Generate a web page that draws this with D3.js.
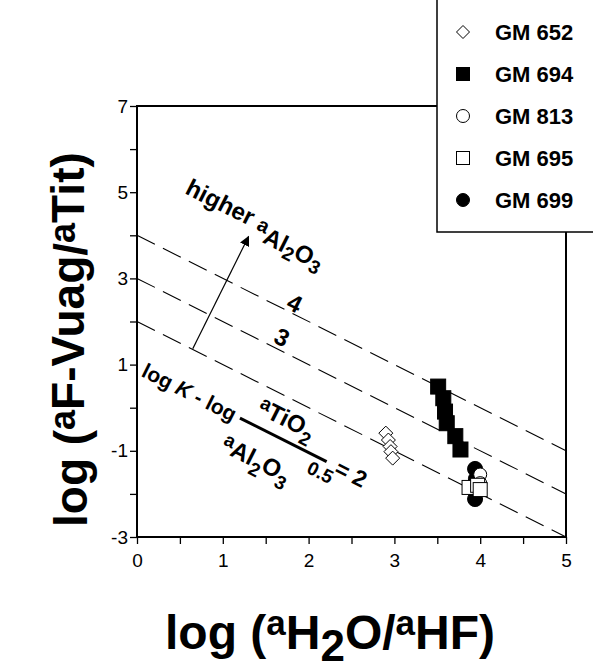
<!DOCTYPE html>
<html>
<head>
<meta charset="utf-8">
<script src="https://cdn.jsdelivr.net/npm/d3@7"></script>
<style>
  body { margin: 0; background: #fff; }
  text { font-family: Helvetica, Arial, "Liberation Sans", sans-serif; fill: #000; }
</style>
</head>
<body>
<svg id="chart" width="593" height="672"></svg>
<script>
// sample names and their symbols (legend order)
var samples = ["GM 652", "GM 694", "GM 813", "GM 695", "GM 699"];
var symbolKinds = ["diamond", "squareFilled", "circle", "square", "circleFilled"];

// measured points, [log(aH2O/aHF), log(aF-Vuag/aTit)]
var gm652 = [[2.90, -0.59], [2.93, -0.75], [2.95, -0.90], [2.96, -1.02], [2.98, -1.17]];
var gm694 = [[3.51, 0.49], [3.57, 0.22], [3.59, -0.09], [3.61, -0.36], [3.71, -0.66], [3.77, -0.97]];
var gm813 = [[4.00, -1.55], [4.00, -1.75]];
var gm695 = [[3.87, -1.85], [3.97, -1.80], [4.00, -1.90]];
var gm699 = [[3.94, -1.42], [3.95, -1.65], [3.96, -1.95], [3.94, -2.12]];

// iso lines: log K - log(aTiO2/aAl2O3^0.5) = value  ->  y = value - x
var isoValues = [2, 3, 4];
var isoLabels = ["3", "4"];
var isoLabelPos = [[1.69, 1.64], [1.84, 2.43]];

var xTickValues = [0, 0.5, 1, 1.5, 2, 2.5, 3, 3.5, 4, 4.5, 5];
var yTickValues = [-3, -2, -1, 0, 1, 2, 3, 4, 5, 6, 7];
var xTickLabels = ["0", "1", "2", "3", "4", "5"];
var yTickLabels = ["-3", "-1", "1", "3", "5", "7"];

// annotation anchors in data units
var arrowFrom = [0.65, 1.37], arrowTo = [1.30, 3.97];
var higherAt = [0.548, 4.98];
var fractionAt = [1.20, -0.24];

(function() {
  "use strict";

  var svg = d3.select("#chart"),
    left = 137, right = 566, top = 106, bottom = 537;

  var x = d3.scaleLinear().domain([0, 5]).range([left, right]);
  var y = d3.scaleLinear().domain([-3, 7]).range([bottom, top]);

  // slope angle of the iso lines on screen
  var angle = Math.atan2(y(-1) - y(0), x(1) - x(0)) * 180 / Math.PI;

  // axes
  var xAxis = d3.axisBottom(x).tickValues(xTickValues).tickSize(7).tickSizeOuter(0)
    .tickFormat(function(d) { return xTickLabels.indexOf(String(d)) >= 0 ? d : ""; });
  var yAxis = d3.axisLeft(y).tickValues(yTickValues).tickSize(7).tickSizeOuter(0)
    .tickFormat(function(d) { return yTickLabels.indexOf(String(d)) >= 0 ? d : ""; });

  var gx = svg.append("g").attr("transform", "translate(0," + bottom + ")").call(xAxis);
  var gy = svg.append("g").attr("transform", "translate(" + left + ",0)").call(yAxis);
  [gx, gy].forEach(function(g) {
    g.select(".domain").remove();
    g.selectAll("line").attr("stroke", "#000").attr("stroke-width", 1.3);
    g.selectAll("text").style("font-size", "19px").attr("fill", "#000");
  });
  gx.selectAll("text").attr("y", 12).attr("dy", "0.95em");
  gy.selectAll("text").attr("x", -9);

  // frame
  svg.append("rect")
    .attr("x", left).attr("y", top)
    .attr("width", right - left).attr("height", bottom - top)
    .attr("fill", "none").attr("stroke", "#000").attr("stroke-width", 2);

  // dashed iso lines
  var line = d3.line().x(function(d) { return x(d[0]); }).y(function(d) { return y(d[1]); });
  svg.selectAll(".iso").data(isoValues).enter().append("path")
    .attr("class", "iso")
    .attr("d", function(v) { return line([[0, v], [5, v - 5]]); })
    .attr("fill", "none").attr("stroke", "#000").attr("stroke-width", 1.1)
    .attr("stroke-dasharray", "20,9");

  svg.selectAll(".isolabel").data(isoLabels).enter().append("text")
    .attr("class", "isolabel")
    .attr("transform", function(d, i) {
      return "translate(" + x(isoLabelPos[i][0]) + "," + y(isoLabelPos[i][1]) + ") rotate(" + angle + ")";
    })
    .attr("text-anchor", "middle").attr("dy", "0.36em")
    .style("font-size", "24px").style("font-weight", "bold")
    .text(function(d) { return d; });

  // arrow
  svg.append("defs").append("marker")
    .attr("id", "head").attr("viewBox", "0 0 10 10")
    .attr("refX", 9).attr("refY", 5)
    .attr("markerWidth", 10).attr("markerHeight", 10)
    .attr("markerUnits", "userSpaceOnUse")
    .attr("orient", "auto")
    .append("path").attr("d", "M0,0L10,5L0,10Z").attr("fill", "#000");
  svg.append("line")
    .attr("x1", x(arrowFrom[0])).attr("y1", y(arrowFrom[1]))
    .attr("x2", x(arrowTo[0])).attr("y2", y(arrowTo[1]))
    .attr("stroke", "#000").attr("stroke-width", 1.2)
    .attr("marker-end", "url(#head)");

  // text with sub/superscripts: parts = [text, size, baseline offset, italic]
  function richText(g, tx, ty, parts, weight) {
    var t = g.append("text").attr("x", tx).attr("y", ty).style("font-weight", weight || "bold");
    parts.forEach(function(p) {
      t.append("tspan")
        .attr("y", ty + p[2])
        .style("font-size", p[1] + "px")
        .style("font-style", p[3] ? "italic" : "normal")
        .text(p[0]);
    });
    return t;
  }

  var gh = svg.append("g")
    .attr("transform", "translate(" + x(higherAt[0]) + "," + y(higherAt[1]) + ") rotate(" + angle + ")");
  richText(gh, 0, 0, [["higher ", 24, 0], ["a", 20, 0], ["Al", 24, 9], ["2", 19, 14], ["O", 24, 9], ["3", 19, 14]]);

  var gf = svg.append("g")
    .attr("transform", "translate(" + x(fractionAt[0]) + "," + y(fractionAt[1]) + ") rotate(" + angle + ")");
  richText(gf, -108, 7, [["log ", 21, 0], ["K", 21, 0, true], [" - log", 21, 0]]);
  gf.append("line").attr("x1", 0).attr("y1", 0).attr("x2", 97).attr("y2", 0)
    .attr("stroke", "#000").attr("stroke-width", 3);
  richText(gf, 12, -12, [["a", 19, -6], ["TiO", 24, 0], ["2", 19, 8]]);
  richText(gf, -4, 38, [["a", 19, -7], ["Al", 24, 0], ["2", 19, 8], ["O", 24, 0], ["3", 19, 8]]);
  richText(gf, 83, 19, [["0.5", 19, 0]]);
  richText(gf, 108, 8, [["= 2", 23, 0]]);

  // axis titles
  richText(svg, 165, 649, [["log (", 48, 0], ["a", 35, -14], ["H", 48, 0], ["2", 44, 12], ["O/", 48, 0], ["a", 35, -14], ["HF)", 48, 0]]);
  var gyt = svg.append("g").attr("transform", "translate(87,527) rotate(-90)");
  richText(gyt, 0, 0, [["log (", 46, 0], ["a", 36, -12], ["F-Vuag", 46, -3], ["/", 46, 0], ["a", 36, -12], ["Tit)", 46, -3]]);

  // symbols
  function drawSymbol(g, kind, cx, cy, s) {
    var h = s / 2;
    if (kind === "diamond") {
      g.append("path").attr("d", "M" + cx + "," + (cy - h) + "L" + (cx + h) + "," + cy + "L" + cx + "," + (cy + h) + "L" + (cx - h) + "," + cy + "Z")
        .attr("fill", "#fff").attr("stroke", "#000").attr("stroke-width", 1);
    } else if (kind === "squareFilled" || kind === "square") {
      g.append("rect").attr("x", cx - h).attr("y", cy - h).attr("width", s).attr("height", s)
        .attr("fill", kind === "square" ? "#fff" : "#000").attr("stroke", "#000").attr("stroke-width", 1);
    } else {
      g.append("circle").attr("cx", cx).attr("cy", cy).attr("r", h)
        .attr("fill", kind === "circle" ? "#fff" : "#000").attr("stroke", "#000").attr("stroke-width", 1);
    }
  }

  var pts = svg.append("g");
  var drawOrder = [[gm699, "circleFilled", 15], [gm694, "squareFilled", 15], [gm652, "diamond", 14],
    [gm813, "circle", 13], [gm695, "square", 14]];
  drawOrder.forEach(function(set) {
    set[0].forEach(function(d) {
      drawSymbol(pts, set[1], x(d[0]), y(d[1]), set[2]);
    });
  });

  // legend
  var lg = svg.append("g");
  lg.append("rect").attr("x", 437).attr("y", -2).attr("width", 170).attr("height", 234)
    .attr("fill", "#fff").attr("stroke", "#000").attr("stroke-width", 1.5);
  var rowY = d3.scaleLinear().domain([0, 4]).range([32, 200]);
  samples.forEach(function(name, i) {
    drawSymbol(lg, symbolKinds[i], 463, rowY(i), 13);
    lg.append("text").attr("x", 495).attr("y", rowY(i)).attr("dy", "0.36em")
      .style("font-size", "22px").style("font-weight", "bold").text(name);
  });
})();
</script>
</body>
</html>
